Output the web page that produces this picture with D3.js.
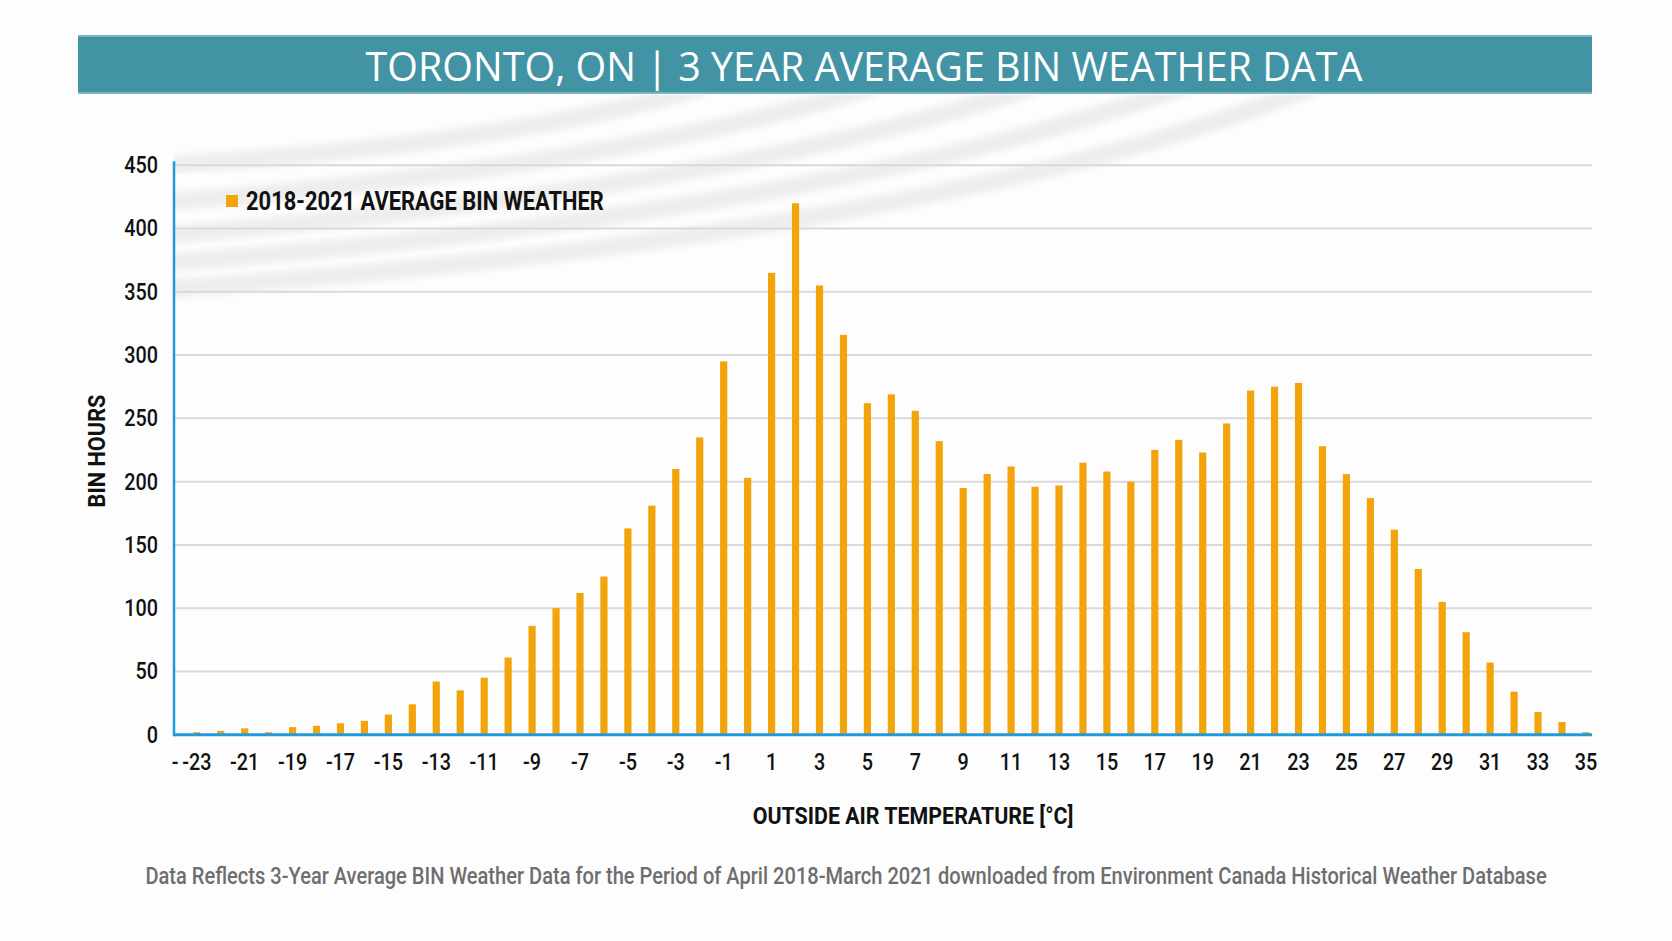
<!DOCTYPE html>
<html>
<head>
<meta charset="utf-8">
<script src="https://cdn.jsdelivr.net/npm/d3@7"></script>
<style>
  html, body { margin: 0; padding: 0; background: #fdfdfd; }
  svg { display: block; }
</style>
</head>
<body>
<svg id="chart" width="1672" height="941"></svg>
<script>
// ---------------- DATA ----------------
const chartTitle = "TORONTO, ON | 3 YEAR AVERAGE BIN WEATHER DATA";
const seriesName = "2018-2021 AVERAGE BIN WEATHER";
const yAxisTitle = "BIN HOURS";
const xAxisTitle = "OUTSIDE AIR TEMPERATURE [°C]";
const captionText = "Data Reflects 3-Year Average BIN Weather Data for the Period of April 2018-March 2021 downloaded from Environment Canada Historical Weather Database";

// temperature bins (°C)
const bins = [-23, -22, -21, -20, -19, -18, -17, -16, -15, -14, -13, -12, -11, -10,
              -9, -8, -7, -6, -5, -4, -3, -2, -1, 0, 1, 2, 3, 4, 5, 6, 7, 8, 9, 10,
              11, 12, 13, 14, 15, 16, 17, 18, 19, 20, 21, 22, 23, 24, 25, 26, 27, 28,
              29, 30, 31, 32, 33, 34, 35];
// average bin hours
const binHours = [2, 3, 5, 2, 6, 7, 9, 11, 16, 24, 42, 35, 45, 61,
                  86, 100, 112, 125, 163, 181, 210, 235, 295, 203, 365, 420, 355, 316, 262, 269, 256, 232, 195, 206,
                  212, 196, 197, 215, 208, 200, 225, 233, 223, 246, 272, 275, 278, 228, 206, 187, 162, 131,
                  105, 81, 57, 34, 18, 10, 2];

const yTickValues = [0, 50, 100, 150, 200, 250, 300, 350, 400, 450];
const xTickValues = [-23, -21, -19, -17, -15, -13, -11, -9, -7, -5, -3, -1, 1, 3, 5, 7, 9,
                     11, 13, 15, 17, 19, 21, 23, 25, 27, 29, 31, 33, 35];
const xLeadLabel = "-";

// ---------------- LAYOUT ----------------
const W = 1672, H = 941;
const plot = { left: 174, right: 1592, top: 165.3, bottom: 734.7 };
const COND = "Roboto, 'Liberation Sans', 'DejaVu Sans', sans-serif";
const barColor = "#f4a40b";
const axisBlue = "#1e9bdc";
const gridColor = "#d9d9d9";
const tickSX = 0.86;

const svg = d3.select("#chart");

svg.append("rect").attr("width", W).attr("height", H).attr("fill", "#fdfdfd");

// decorative swooshes behind the plot
const defs = svg.append("defs");
defs.append("filter").attr("id", "soft")
  .append("feGaussianBlur").attr("stdDeviation", 3);
defs.append("clipPath").attr("id", "swooshClip")
  .append("rect").attr("x", plot.left).attr("y", 95).attr("width", 1300).attr("height", 230);

const swooshG = svg.append("g").attr("clip-path", "url(#swooshClip)");
const swooshes = [
  [[150, 166], [500, 146], [700, 88]],
  [[150, 203], [600, 170], [870, 88]],
  [[150, 236], [700, 195], [1030, 88]],
  [[150, 264], [820, 215], [1180, 88]],
  [[150, 290], [930, 238], [1310, 88]]
];
swooshes.forEach(s => {
  const p = d3.path();
  p.moveTo(s[0][0], s[0][1]);
  p.quadraticCurveTo(s[1][0], s[1][1], s[2][0], s[2][1]);
  swooshG.append("path").attr("d", p.toString())
    .attr("fill", "none").attr("stroke", "#ebebeb")
    .attr("stroke-width", 18).attr("stroke-linecap", "round")
    .attr("filter", "url(#soft)").attr("opacity", 0.85);
});

// title banner
svg.append("rect").attr("x", 78).attr("y", 35).attr("width", 1514).attr("height", 59)
  .attr("fill", "#4293a3");
svg.append("line").attr("x1", 78).attr("x2", 1592).attr("y1", 36).attr("y2", 36)
  .attr("stroke", "#7ab6c2").attr("stroke-width", 2);
svg.append("line").attr("x1", 78).attr("x2", 1592).attr("y1", 93).attr("y2", 93)
  .attr("stroke", "#7ab6c2").attr("stroke-width", 2);

function fitText(sel, targetWidth) {
  const fs = parseFloat(sel.attr("font-size"));
  const len = sel.node().getComputedTextLength();
  if (len > 0) sel.attr("font-size", (fs * targetWidth / len).toFixed(2));
}
// squeeze text horizontally to a target width, keeping its height
function squeezeText(sel, cx, cy, targetWidth, rotate) {
  const len = sel.node().getComputedTextLength();
  const sx = len > 0 ? targetWidth / len : 1;
  sel.attr("transform", `translate(${cx},${cy}) rotate(${rotate || 0}) scale(${sx.toFixed(4)},1)`);
}

const titleText = svg.append("text")
  .attr("x", 864).attr("y", 66)
  .attr("text-anchor", "middle").attr("dominant-baseline", "central")
  .attr("font-family", "'Open Sans', 'Noto Sans', sans-serif")
  .attr("font-weight", 500).attr("font-size", 33)
  .attr("fill", "#ffffff")
  .text(chartTitle);
fitText(titleText, 997);

// scales
const x = d3.scaleBand()
  .domain(bins)
  .range([plot.left + 10.8, plot.right + 5.9])
  .paddingInner(0.7)
  .paddingOuter(0.35);

const y = d3.scaleLinear().domain([0, 450]).range([plot.bottom, plot.top]);

// gridlines
svg.append("g").selectAll("line")
  .data(yTickValues.filter(v => v > 0))
  .join("line")
  .attr("x1", plot.left).attr("x2", plot.right)
  .attr("y1", d => y(d)).attr("y2", d => y(d))
  .attr("stroke", gridColor).attr("stroke-width", 2);

// bars
svg.append("g").selectAll("rect")
  .data(bins.map((b, i) => ({ bin: b, v: binHours[i] })))
  .join("rect")
  .attr("x", d => x(d.bin))
  .attr("y", d => y(d.v))
  .attr("width", x.bandwidth())
  .attr("height", d => y(0) - y(d.v))
  .attr("fill", barColor);

// y axis
const yAxisG = svg.append("g")
  .attr("transform", `translate(${plot.left},0)`)
  .call(d3.axisLeft(y).tickValues(yTickValues).tickSize(0).tickPadding(16 / tickSX)
        .tickFormat(d => String(d)));
yAxisG.select(".domain").remove();
yAxisG.selectAll("text")
  .attr("font-family", COND).attr("font-weight", 500).attr("font-size", 23).attr("fill", "#111")
  .attr("transform", `scale(${tickSX},1)`);

svg.append("line")
  .attr("x1", plot.left).attr("x2", plot.left)
  .attr("y1", plot.top - 4).attr("y2", plot.bottom + 1.5)
  .attr("stroke", axisBlue).attr("stroke-width", 2.5);

// x axis
const xAxisG = svg.append("g")
  .attr("transform", `translate(0,${plot.bottom})`)
  .call(d3.axisBottom(x).tickValues(xTickValues).tickSize(0).tickPadding(19)
        .tickFormat(d => String(d)));
xAxisG.select(".domain").remove();
xAxisG.selectAll("text")
  .attr("font-family", COND).attr("font-weight", 500).attr("font-size", 23).attr("fill", "#111")
  .attr("transform", `scale(${tickSX},1)`);
xAxisG.append("text")
  .attr("x", (plot.left + 1) / tickSX).attr("y", 19).attr("dy", "0.71em")
  .attr("text-anchor", "middle")
  .attr("transform", `scale(${tickSX},1)`)
  .attr("font-family", COND).attr("font-weight", 500).attr("font-size", 23).attr("fill", "#111")
  .text(xLeadLabel);

svg.append("line")
  .attr("x1", plot.left).attr("x2", plot.right)
  .attr("y1", plot.bottom).attr("y2", plot.bottom)
  .attr("stroke", axisBlue).attr("stroke-width", 3);

// legend
svg.append("rect").attr("x", 226).attr("y", 195).attr("width", 12).attr("height", 12)
  .attr("fill", barColor);
const legText = svg.append("text")
  .attr("dominant-baseline", "central")
  .attr("font-family", COND).attr("font-weight", "bold").attr("font-size", 26)
  .attr("fill", "#111")
  .text(seriesName);
squeezeText(legText, 246, 201, 358, 0);

// axis titles
const yT = svg.append("text")
  .attr("text-anchor", "middle").attr("dominant-baseline", "central")
  .attr("font-family", COND).attr("font-weight", "bold").attr("font-size", 24)
  .attr("fill", "#111")
  .text(yAxisTitle);
squeezeText(yT, 97, 451, 113, -90);

const xT = svg.append("text")
  .attr("text-anchor", "middle").attr("dominant-baseline", "central")
  .attr("font-family", COND).attr("font-weight", "bold").attr("font-size", 24)
  .attr("fill", "#111")
  .text(xAxisTitle);
squeezeText(xT, 913, 816, 321, 0);

// caption
const cap = svg.append("text")
  .attr("text-anchor", "middle").attr("dominant-baseline", "central")
  .attr("font-family", COND).attr("font-weight", 500).attr("font-size", 23)
  .attr("fill", "#6e6e6e")
  .text(captionText);
squeezeText(cap, 846, 876, 1402, 0);
</script>
</body>
</html>
